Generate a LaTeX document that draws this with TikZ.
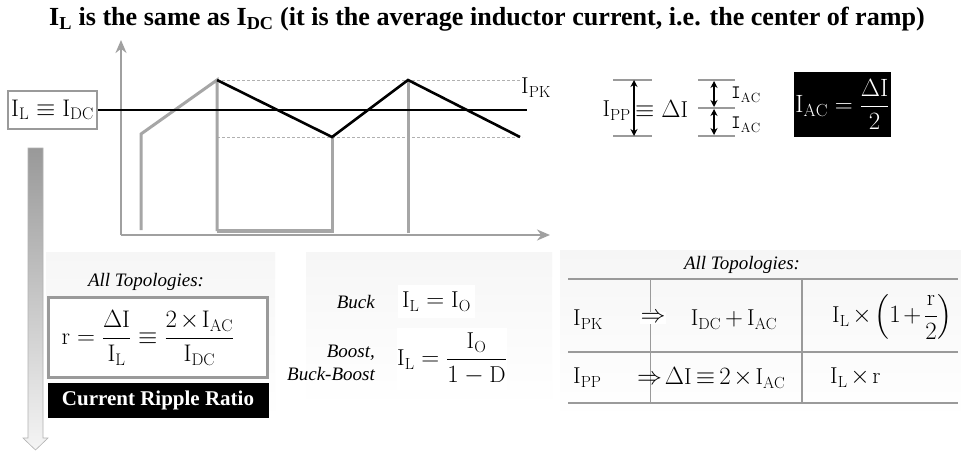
\documentclass[tikz,border=0pt]{standalone}
\usepackage{amsmath}
\usepackage{fontspec}
\newfontfamily\titlefont{Liberation Serif}
\usetikzlibrary{arrows.meta}
\definecolor{wave}{HTML}{A6A6A6}
\definecolor{axisc}{HTML}{A0A0A0}
\definecolor{boxgray}{HTML}{9A9A9A}
\definecolor{dash}{HTML}{B0B0B0}
\newcommand{\tx}{\mskip2mu{\times}\mskip2mu}
\tikzset{
  mtxt/.style={inner sep=0pt, font=\fontsize{23}{26}\selectfont},
  itl/.style={inner sep=0pt, font=\titlefont\itshape\fontsize{19}{23}\selectfont},
  wavel/.style={draw=wave, line width=3pt},
  blackl/.style={draw=black, line width=2.6pt, line join=miter},
  dashl/.style={draw=dash, line width=1pt, dash pattern=on 3pt off 2pt},
  axisl/.style={draw=axisc, line width=2pt, -{Stealth[length=13pt,width=11pt]}},
  tickl/.style={draw=boxgray, line width=1.2pt},
  darr/.style={draw=black, line width=1.2pt, {Stealth[length=7pt,width=7pt]}-{Stealth[length=7pt,width=7pt]}},
  tabl/.style={draw=boxgray, line width=1.6pt},
  panel/.style={top color=gray!7, bottom color=white, draw=none},
}
\begin{document}
\begin{tikzpicture}[x=1pt,y=-1pt]
\useasboundingbox (0,0) rectangle (961,451);
\fill[white] (0,0) rectangle (961,451);
% background panels
\path[panel] (46,252) rectangle (275,420);
\path[panel] (306,252) rectangle (552,407);
\path[panel] (560,250) rectangle (961,420);
% title
\node[inner sep=0pt, font=\titlefont\bfseries\fontsize{26.1}{30}\selectfont] (title) at (487,19)
  {I\textsubscript{L} is the same as I\textsubscript{DC} (it is the average inductor current, i.e. the center of ramp)};
% axes
\coordinate (o) at (121,235);
\coordinate (ytop) at (121,40);
\coordinate (xend) at (550,235);
\draw[axisl] (o) -- (ytop);
\draw[axisl] (o) -- (xend);
% waveform points
\coordinate (s0) at (141,230);
\coordinate (s1) at (141,134);
\coordinate (p1) at (217,80);
\coordinate (b1) at (217,231);
\coordinate (v1) at (332,137);
\coordinate (b2) at (332,233);
\coordinate (p2) at (408,80);
\coordinate (b3) at (408,233);
\coordinate (e1) at (520,137);
\coordinate (dt1) at (522,80);
\coordinate (dt2) at (522,137);
% dashed levels
\draw[dashl] (p1) -- (dt1);
\draw[dashl] (217,137) -- (dt2);
% gray waveform
\draw[wavel, line join=miter] (s0) -- (s1) -- (p1) -- (b1);
\draw[draw=wave, line width=4pt] (b1) -- (b2 |- b1);
\draw[wavel] (b2) -- (v1);
\draw[wavel] (b3) -- (p2);
% IL box and line
\node[draw=boxgray, line width=1.5pt, fill=white, minimum width=89pt, minimum height=38pt, inner sep=0pt, font=\fontsize{24}{26}\selectfont] (ildc) at (52.5,110) {$\mathrm{I_L\equiv I_{DC}}$};
\coordinate (ilend) at (527,110);
\draw[black, line width=2pt] (ildc.east) -- (ilend);
% black triangle
\draw[blackl] (p1) -- (v1) -- (p2) -- (e1);
% IPK label
\node[mtxt, anchor=west] (ipk) at (521,88) {$\mathrm{I_{PK}}$};
% left arrow
\draw[draw=gray!60, line width=0.6pt, top color=gray!80, bottom color=gray!8]
  (28,148) -- (43,148) -- (43,438) -- (48,438) -- (35.5,450) -- (23,438) -- (28,438) -- cycle;
% top right: IPP
\coordinate (t1a) at (613,80); \coordinate (t1b) at (652,80);
\coordinate (t2a) at (613,136); \coordinate (t2b) at (652,136);
\draw[tickl] (t1a) -- (t1b);
\draw[tickl] (t2a) -- (t2b);
\coordinate (ar1) at (634,80); \coordinate (ar2) at (634,136);
\draw[darr] (ar1) -- (ar2);
\node[mtxt, anchor=east] (ipp) at (631,111) {$\mathrm{I_{PP}}$};
\node[mtxt, anchor=west] (dI) at (635,109) {$\equiv \Delta\mathrm{I}$};
% IAC group
\coordinate (u1a) at (698,80); \coordinate (u1b) at (735,80);
\coordinate (u2a) at (698,108); \coordinate (u2b) at (735,108);
\coordinate (u3a) at (698,136); \coordinate (u3b) at (735,136);
\draw[tickl] (u1a) -- (u1b);
\draw[tickl] (u2a) -- (u2b);
\draw[tickl] (u3a) -- (u3b);
\draw[darr] (714,81) -- (714,107);
\draw[darr] (714,109) -- (714,135);
\node[inner sep=0pt, anchor=west, font=\fontsize{19}{22}\selectfont] (iac1) at (731,95) {$\mathtt{I}_{\mathrm{AC}}$};
\node[inner sep=0pt, anchor=west, font=\fontsize{19}{22}\selectfont] (iac2) at (731,125) {$\mathtt{I}_{\mathrm{AC}}$};
% black box IAC = dI/2
\node[fill=black, text=white, minimum width=97pt, minimum height=65pt, inner sep=0pt, font=\fontsize{25}{28}\selectfont] (iacbox) at (842.5,104.5) {$\mathrm{I_{AC}}=\dfrac{\Delta\mathrm{I}}{2}$};
% bottom left panel
\node[itl] (at1) at (146,282) {All Topologies:};
\node[draw=boxgray, line width=2.5pt, fill=white, minimum width=219pt, minimum height=80pt, inner sep=0pt] (rbox) at (158,337.5) {};
\node[inner sep=0pt, font=\fontsize{24}{26}\selectfont] (rform) at (148,338)
  {$\mathrm{r}=\dfrac{\Delta\mathrm{I}}{\mathrm{I_L}}\equiv\dfrac{2\tx\mathrm{I_{AC}}}{\mathrm{I_{DC}}}$};
\node[fill=black, text=white, minimum width=221pt, minimum height=35pt, inner sep=0pt, font=\titlefont\bfseries\fontsize{21}{24}\selectfont] (crr) at (158,400) {Current Ripple Ratio};
% middle panel
\node[itl, anchor=east] (buck) at (375,302) {Buck};
\node[fill=white, minimum width=77pt, minimum height=33pt, inner sep=0pt, font=\fontsize{23}{26}\selectfont] (f1) at (436.5,301.5) {$\mathrm{I_L}=\mathrm{I_O}$};
\node[itl, anchor=east, align=right] (boost) at (375,363) {Boost,\\Buck-Boost};
\node[fill=white, minimum width=110pt, minimum height=62pt, inner sep=0pt, font=\fontsize{23}{26}\selectfont] (f2) at (452,359) {$\mathrm{I_L}=\dfrac{\mathrm{I_O}}{1-\mathrm{D}}$};
% right table
\node[itl] (at2) at (742,265) {All Topologies:};
\coordinate (h1a) at (568,279); \coordinate (h1b) at (958,279);
\coordinate (h2a) at (568,352); \coordinate (h2b) at (958,352);
\coordinate (h3a) at (568,403); \coordinate (h3b) at (958,403);
\coordinate (vta) at (802,279); \coordinate (vtb) at (802,403);
\coordinate (vsa) at (650,279); \coordinate (vsb) at (650,403);
\draw[draw=boxgray, line width=0.7pt] (vsa) -- (vsb);
\draw[tabl] (h1a) -- (h1b);
\draw[tabl] (h2a) -- (h2b);
\draw[tabl] (h3a) -- (h3b);
\draw[tabl] (vta) -- (vtb);
\node[mtxt, anchor=west] (tpk) at (573,320) {$\mathrm{I_{PK}}$};
\node[mtxt, fill=white, inner sep=1pt] (imp1) at (653,318) {$\Rightarrow$};
\node[mtxt] (sum) at (734,320) {$\mathrm{I_{DC}}\mskip3mu{+}\mskip3mu\mathrm{I_{AC}}$};
\node[mtxt, anchor=west] (form1) at (832,317) {$\mathrm{I_L}\tx\!\left(1\mskip2mu{+}\mskip2mu\dfrac{\mathrm{r}}{2}\right)$};
\node[mtxt, anchor=west] (tpp) at (573,378) {$\mathrm{I_{PP}}$};
\node[mtxt, anchor=west] (form2) at (637,378) {$\Rightarrow\!\Delta\mathrm{I}\mskip3mu{\equiv}\mskip3mu 2\tx\mathrm{I_{AC}}$};
\node[mtxt, anchor=west] (form3) at (830,378) {$\mathrm{I_L}\tx\mathrm{r}$};
\end{tikzpicture}
\end{document}
